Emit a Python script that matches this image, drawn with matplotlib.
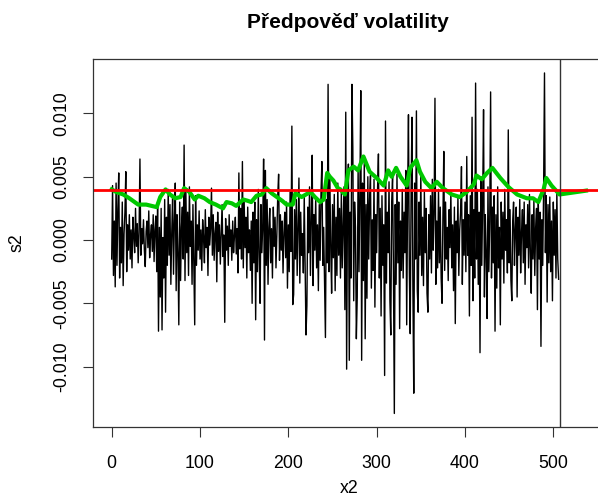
import numpy as np
import matplotlib
matplotlib.use("Agg")
import matplotlib.pyplot as plt

plt.rcParams['font.family'] = ['Liberation Sans', 'DejaVu Sans']

# daily returns (units of 1e-3)
returns_e3 = [
    -1.5, 4.3, -2.8, 1.5, -3.7, 4.5, -2.0, 2.5, 5.3, -3.0, 1.0, -1.8, 3.0, -3.6, 0.5, 2.2, 5.4, -2.5, 1.2, -0.8,
    2.0, -1.5, 0.8, -2.2, 1.8, 0.3, -1.0, 2.5, -0.5, 1.3, -1.8, 0.6, 6.4, -1.2, 0.9, -0.3, 1.6, -0.8, -2.1, 0.7,
    1.5, -0.6, 2.3, -1.4, 0.4, 1.2, -0.9, 2.0, -1.7, 0.8, 1.9, -2.5, 3.0, -7.2, 1.0, -4.5, 2.5, -7.1, 0.2, -3.0,
    3.2, -5.7, 1.8, -2.0, 4.0, -1.2, 2.8, -3.5, 0.6, 3.5, -2.7, 1.5, 4.5, -4.0, 2.0, -1.0, -6.7, 3.0, -3.2, 1.0,
    2.6, -1.5, 7.5, -3.2, 3.8, -1.0, 2.2, -2.8, 4.2, -0.5, 1.5, -3.5, 2.8, -1.8, -6.7, 3.5, -2.0, 1.2, -0.8, 2.3,
    -1.5, 0.8, -2.4, 1.6, 0.2, -1.8, 2.4, -0.6, 1.0, -2.8, 1.8, -0.4, 0.9, 4.1, -1.2, 2.0, -1.6, 0.5, 1.4, -3.3,
    2.2, -0.9, 1.2, -1.9, 0.6, 2.8, -1.3, 0.4, -6.5, 1.7, -0.8, 1.1, -2.0, 2.0, -0.5, 0.8, -1.6, 1.5, -1.0, 0.3,
    1.8, -1.1, 0.9, -2.6, 5.3, -0.7, 2.5, -1.5, 6.2, -2.2, 3.0, -0.6, 1.8, -3.0, 2.6, -1.0, 0.8, -2.4, 1.5, -5.0,
    2.2, -1.8, 3.0, -6.3, 1.6, -2.5, 4.0, -1.2, -5.0, 2.8, -1.0, 1.2, 6.4, -7.9, 5.5, -2.0, 3.2, -3.5, 1.0, 2.5,
    -1.8, 0.9, -3.0, 2.6, -0.5, 1.8, -2.2, 0.4, 3.5, 5.2, -1.6, 2.0, -0.8, 1.5, -2.6, 0.6, 2.2, -1.4, 3.0, -3.8,
    1.2, -2.5, 3.8, -0.9, 9.0, -5.1, -4.3, 2.4, -1.5, 3.2, -2.8, 1.0, 4.9, -3.4, 2.2, -1.2, 0.5, -2.6, 3.5, -1.8,
    -7.5, -5.2, 2.6, -1.0, 4.2, -2.8, 1.5, 6.7, -3.6, 2.0, -0.8, 3.4, -2.2, 1.2, -4.0, 2.8, -1.6, 3.8, 6.2, -2.0,
    1.0, -3.5, -7.7, 3.2, -1.8, 12.3, -2.5, 5.0, -0.6, -4.2, 2.8, -1.4, 3.6, -4.0, 1.8, -2.8, 4.5, -1.2, 2.5, -3.0,
    3.8, -2.2, 1.0, 4.2, -5.5, 10.1, -10.2, 3.5, 6.0, -9.5, 2.2, -3.0, 12.3, 7.3, -4.8, 3.0, 1.0, -7.8, -4.5, 5.6,
    -2.5, 3.8, 11.8, -9.5, 4.5, -3.2, 6.6, -7.8, 2.8, -4.6, 5.0, -1.5, 3.2, 5.1, -3.8, 1.6, -2.4, 4.8, -5.3, 2.0,
    -1.0, 4.0, 6.8, -3.0, 2.5, -6.0, 3.5, -2.0, 1.2, -10.7, 9.4, -3.4, 2.2, -1.0, 4.6, -4.8, -7.5, 3.0, 5.0, -2.5,
    -13.7, 2.8, -3.5, 5.2, -1.8, 3.0, -7.0, 1.5, -2.4, 4.0, -3.0, 2.2, -1.0, 5.5, -6.7, 3.2, 9.9, -2.5, -7.4, 4.0,
    9.7, -3.8, -12.1, 4.5, -1.5, 10.2, -4.0, -5.7, 3.0, -1.2, 5.2, -2.8, 1.8, -3.6, 3.8, -1.0, 2.5, -4.2, -5.7, 2.0,
    -1.5, 3.5, -2.6, 4.8, -0.8, 2.0, 11.2, -3.5, 1.5, -2.2, 4.0, -1.8, 2.6, -3.0, -5.0, 1.8, 7.0, -2.4, 3.0, -1.5,
    1.0, -3.2, 2.4, -0.6, 3.8, -2.2, 1.2, -4.0, 2.6, -6.6, 1.5, -1.0, 3.4, -2.8, 0.8, 2.2, 5.8, -3.5, 1.6, -1.2,
    3.0, -2.5, 6.6, -1.2, 2.0, -6.0, 3.5, -2.0, 9.7, -4.8, 2.4, -3.0, 12.4, -1.5, 4.0, -3.5, 2.2, -8.9, 5.0, -2.0,
    3.0, 10.3, -4.5, 2.0, -1.0, -6.2, 4.2, -2.5, 1.5, 11.7, -3.0, 2.6, -1.8, 3.5, -7.2, 2.0, -3.8, 4.2, -2.2, 1.0,
    -6.7, 3.0, -1.5, 2.2, -3.4, 4.0, -0.8, 1.6, -2.6, 8.7, -1.8, 2.4, -3.2, -4.8, 1.5, 3.0, -2.0, 0.8, 2.6, -4.5,
    1.8, -1.2, 3.2, -2.6, 0.6, 2.4, -1.8, 3.0, -3.5, 1.2, -0.6, 2.8, -2.2, 3.6, -1.0, -4.2, 2.0, -1.5, 3.2, -2.8,
    1.0, 2.5, -5.5, 3.0, -1.5, 2.2, -8.4, 1.6, -2.0, 4.0, 13.2, -1.0, 3.5, -4.9, 2.8, -1.8, 3.4, -2.5, 1.5, -4.8,
    3.0, -1.2, 2.4, -3.0, 3.8, -1.5, -3.1,
]

# conditional volatility (in-sample fit and 30-step forecast), units of 1e-3
sigma_t = [0, 5, 13, 20, 30, 39, 45, 51, 55, 61, 66, 72, 78, 82, 88, 94, 98, 105, 111, 118,
           126, 130, 136, 141, 149, 154, 158, 164, 170, 175, 181, 187, 193, 198, 205, 208, 215, 220, 225, 230,
           236, 240, 244, 247, 251, 256, 259, 264, 268, 274, 279, 285, 292, 300, 308, 313, 317, 322, 327, 334,
           338, 345, 349, 355, 362, 368, 375, 385, 394, 402, 410, 413, 419, 425, 431, 440, 449, 459, 470, 477,
           483, 489, 492, 498, 507, 517, 527, 537]
sigma_e3 = [4.0, 3.8, 3.6, 3.3, 2.8, 2.8, 2.7, 2.6, 3.4, 4.0, 3.6, 3.3, 3.4, 4.1, 3.8, 3.2, 3.5, 3.3, 3.0, 2.8,
            2.5, 3.0, 2.9, 2.7, 3.2, 3.1, 3.0, 3.5, 3.6, 4.1, 3.7, 3.4, 3.1, 2.8, 2.8, 3.7, 3.4, 3.6, 3.8, 3.4,
            3.0, 3.2, 5.3, 5.0, 4.7, 4.1, 4.0, 3.6, 5.5, 5.8, 5.5, 6.6, 5.4, 4.9, 4.3, 5.5, 5.0, 5.7, 5.0, 4.3,
            5.7, 6.3, 5.4, 4.6, 4.1, 4.6, 4.1, 3.6, 3.4, 3.8, 4.4, 5.1, 4.8, 5.3, 5.7, 4.9, 4.2, 3.6, 3.3, 3.3,
            3.0, 4.0, 4.9, 4.3, 3.6, 3.7, 3.8, 3.9]

uncond_sigma = 0.00397
forecast_start = 507

x2 = np.arange(len(returns_e3))
s2 = np.array(returns_e3) * 1e-3
sig_x = np.array(sigma_t)
sig_y = np.array(sigma_e3) * 1e-3

fig = plt.figure(figsize=(5.98, 5.01), dpi=100)
ax = fig.add_axes([0.155, 0.1477, 0.8567, 0.7345])

ax.plot(x2, s2, color='black', lw=1.0)
ax.plot(sig_x, sig_y, color='#00C800', lw=3.0, solid_joinstyle='round')
ax.axhline(uncond_sigma, color='#FF0000', lw=2.0)
ax.axvline(forecast_start, color='#333333', lw=1.0)

ax.set_xlim(-21.5, 558.5)
ax.set_ylim(-0.01477, 0.0143)
ax.set_xticks([0, 100, 200, 300, 400, 500])
ax.set_yticks([-0.010, -0.005, 0.0, 0.005, 0.010])
ax.set_yticklabels(['-0.010', '-0.005', '0.000', '0.005', '0.010'], rotation=90, va='center')
ax.tick_params(axis='both', labelsize=12.8, length=7, width=0.8, color='#333333')
ax.tick_params(axis='x', pad=13)
ax.tick_params(axis='y', pad=9)
for sp in ax.spines.values():
    sp.set_linewidth(0.9)
    sp.set_color('#333333')

ax.set_xlabel('x2', fontsize=12.8, labelpad=6)
ax.set_ylabel('s2', fontsize=12.8, labelpad=20)
fig.text(348 / 598, 1 - 23 / 501, 'Předpověď volatility', ha='center', va='center',
         fontsize=15, fontweight='bold')

fig.savefig('out.png', dpi=100)
